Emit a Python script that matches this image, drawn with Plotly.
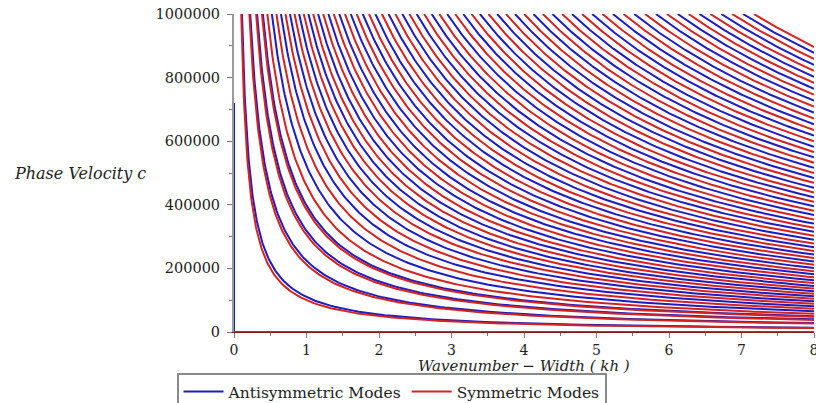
import numpy as np
import plotly.graph_objects as go

# ---- data -----------------------------------------------------------------
# Each mode follows c ~ K / kh ; K (= c * kh) estimated from where each curve
# crosses the plot edges.
antisym_K = [110000, 224000, 318000, 398000, 522000, 648000, 772000, 898000,
             1026000, 1160000, 1302000, 1452000, 1610000, 1776000, 1950000,
             2132000, 2322000, 2520000, 2726000, 2940000, 3162000, 3392000,
             3630000, 3876000, 4130000, 4392000, 4662000, 4940000, 5226000,
             5520000, 5820000, 6120000, 6420000, 6720000, 7020000]
sym_K = [100000, 212000, 305000, 385000, 460000, 585000, 710000, 835000,
         962000, 1092000, 1230000, 1376000, 1530000, 1692000, 1862000,
         2040000, 2226000, 2420000, 2622000, 2832000, 3050000, 3276000,
         3510000, 3752000, 4002000, 4260000, 4526000, 4800000, 5082000,
         5372000, 5670000, 5970000, 6270000, 6570000, 6870000, 7170000]

# branches lying along the axes
a0_branch_kh = [0.0, 0.0]
a0_branch_c = [0, 720000]
s0_branch_kh = [0.0, 8.0]
s0_branch_c = [0, 0]

x_ticks = [0, 1, 2, 3, 4, 5, 6, 7, 8]
y_ticks = [0, 200000, 400000, 600000, 800000, 1000000]
C_MAX = 1000000
KH_MAX = 8

BLUE = "#1c1cc0"
RED = "#d42222"
FONT = "DejaVu Serif"


def family(Ks, extra_x, extra_y):
    xs, ys = list(extra_x) + [None], list(extra_y) + [None]
    for K in Ks:
        kh = np.geomspace(K / C_MAX, KH_MAX, 160)
        xs += kh.tolist() + [None]
        ys += (K / kh).tolist() + [None]
    return xs, ys


bx, by = family(antisym_K, a0_branch_kh, a0_branch_c)
rx, ry = family(sym_K, s0_branch_kh, s0_branch_c)

fig = go.Figure()
fig.add_trace(go.Scatter(x=bx, y=by, mode="lines", name="Antisymmetric Modes",
                         line=dict(color=BLUE, width=2), connectgaps=False))
fig.add_trace(go.Scatter(x=rx, y=ry, mode="lines", name="Symmetric Modes",
                         line=dict(color=RED, width=2), connectgaps=False))

fig.update_layout(
    width=816, height=403,
    margin=dict(l=234, r=2, t=14, b=71, autoexpand=False),
    paper_bgcolor="white", plot_bgcolor="white",
    font=dict(family=FONT, size=14, color="#222222"),
    showlegend=True,
    legend=dict(orientation="h", x=0.2716, xanchor="center", y=-0.129,
                yanchor="top", bordercolor="#8a8a8a", borderwidth=2,
                bgcolor="white", font=dict(family=FONT, size=15.5, color="#222"),
                itemwidth=40, tracegroupgap=0, valign="middle"),
    xaxis=dict(range=[0, KH_MAX], tickvals=x_ticks, ticks="outside", ticklen=5,
               tickcolor="#777", showline=True, linecolor="#8a1a1a", linewidth=1,
               showgrid=False, zeroline=False, tickfont=dict(size=14),
               automargin=False, ticklabeloverflow="allow",
               minor=dict(dtick=0.5, ticks="outside", ticklen=3, tickcolor="#777")),
    yaxis=dict(range=[0, C_MAX], tickvals=y_ticks,
               ticktext=[str(v) for v in y_ticks], ticks="outside", ticklen=5,
               tickcolor="#777", showline=True, linecolor="#9a9a9a", linewidth=2,
               showgrid=False, zeroline=False, tickfont=dict(size=14.5),
               automargin=False, ticklabelstandoff=4, ticklabeloverflow="allow",
               minor=dict(dtick=100000, ticks="outside", ticklen=3, tickcolor="#777")),
)
fig.add_annotation(text="<i>Wavenumber − Width ( kh )</i>", xref="paper", yref="paper",
                   x=0.5, y=-0.106, xanchor="center", yanchor="middle",
                   showarrow=False, font=dict(family=FONT, size=15, color="#222"))
fig.add_annotation(text="<i>Phase Velocity c</i>", xref="paper", yref="paper",
                   x=-0.148, y=0.5, xanchor="right", yanchor="middle",
                   showarrow=False, font=dict(family=FONT, size=16, color="#222"))

fig.write_html("out.html", config={"displayModeBar": False},
               post_script="document.body.style.margin='0';")
